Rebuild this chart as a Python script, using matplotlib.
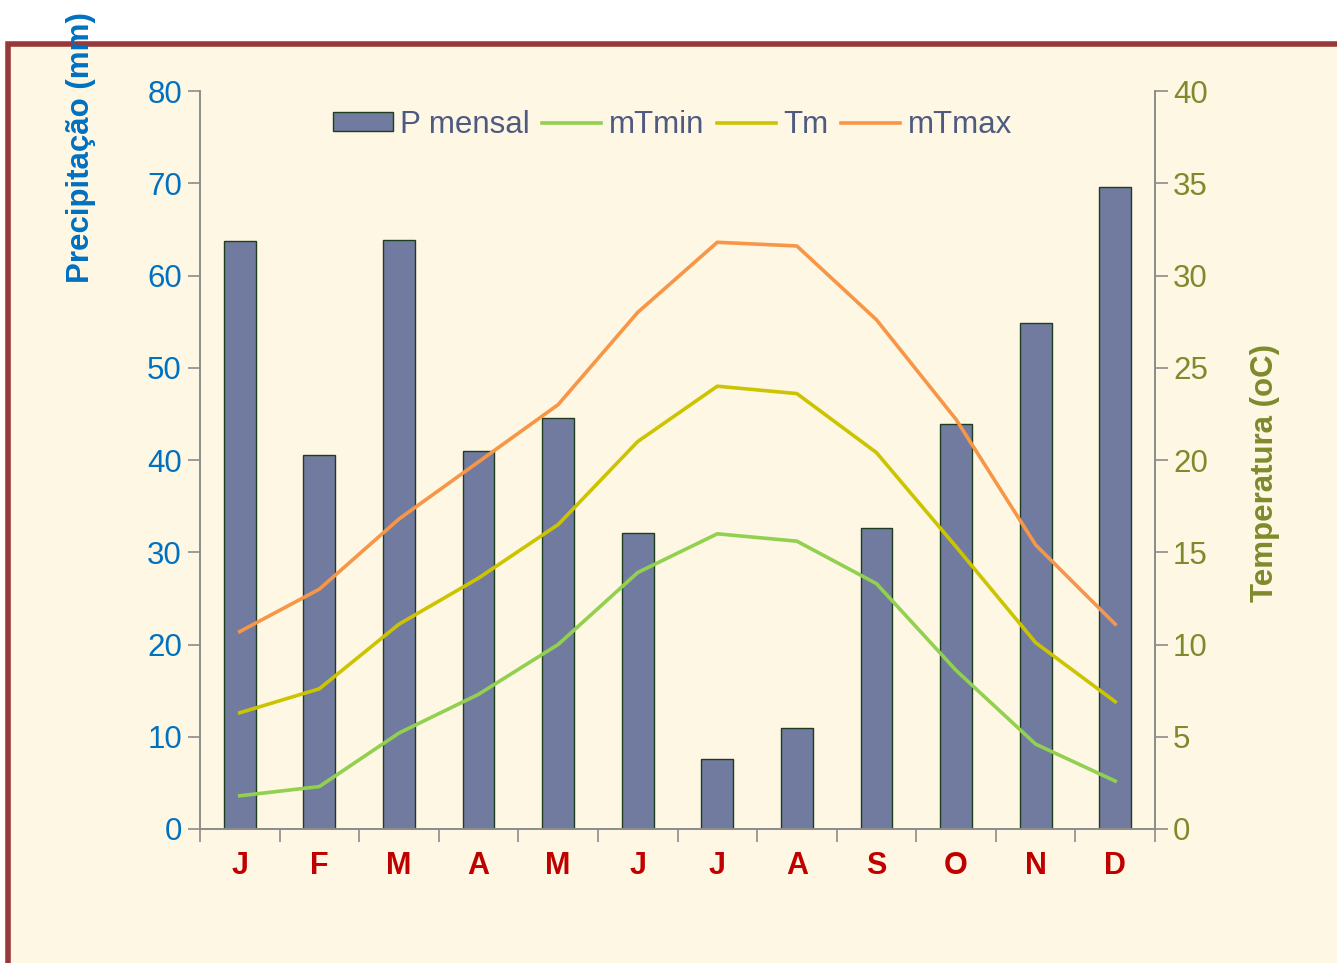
import matplotlib
matplotlib.use("Agg")
import matplotlib.pyplot as plt
from matplotlib.patches import Rectangle
import numpy as np

plt.rcParams['font.family'] = ['Liberation Sans', 'DejaVu Sans']

months = ["J", "F", "M", "A", "M", "J", "J", "A", "S", "O", "N", "D"]
precip = [63.7, 40.5, 63.8, 41.0, 44.6, 32.1, 7.6, 10.9, 32.6, 43.9, 54.9, 69.6]
t_min = [1.8, 2.3, 5.2, 7.3, 10.0, 13.9, 16.0, 15.6, 13.3, 8.6, 4.6, 2.6]
t_mean = [6.3, 7.6, 11.1, 13.6, 16.5, 21.0, 24.0, 23.6, 20.4, 15.3, 10.1, 6.9]
t_max = [10.7, 13.0, 16.8, 19.9, 23.0, 28.0, 31.8, 31.6, 27.6, 22.2, 15.4, 11.1]

W, H = 1337, 963
fig = plt.figure(figsize=(W / 100, H / 100), dpi=100)
fig.patch.set_facecolor("white")

# framed cream panel behind the chart
panel = Rectangle((8 / W, -0.05), 1.2, (H - 44) / H + 0.05, transform=fig.transFigure,
                  facecolor="#FEF7E4", edgecolor="#983838", linewidth=4, zorder=-5)
fig.patches.append(panel)

ax = fig.add_axes([200 / W, 1 - 829 / H, 955 / W, 738 / H])
ax.set_facecolor("none")
ax2 = ax.twinx()

x = np.arange(len(months))
bars = ax.bar(x, precip, width=0.4, color="#717BA0", edgecolor="#1E3D1E", linewidth=1.0,
              label="P mensal", zorder=2)
l1, = ax2.plot(x, t_min, color="#92D050", lw=2.6, label="mTmin")
l2, = ax2.plot(x, t_mean, color="#CCC400", lw=2.6, label="Tm")
l3, = ax2.plot(x, t_max, color="#F79646", lw=2.6, label="mTmax")

ax.set_xlim(-0.5, 11.5)
ax.set_ylim(0, 80)
ax2.set_ylim(0, 40)
ax.set_yticks(range(0, 81, 10))
ax2.set_yticks(range(0, 41, 5))

gray = "#8C8C8C"
for a in (ax, ax2):
    a.spines["top"].set_visible(False)
    for s in ("left", "right", "bottom"):
        a.spines[s].set_color(gray)
        a.spines[s].set_linewidth(1.2)

ax.set_xticks(np.arange(-0.5, 12, 1))
ax.set_xticklabels([])
ax.set_xticks(x, minor=True)
ax.set_xticklabels(months, minor=True)
ax.tick_params(axis="x", which="major", length=9, width=1.2, color=gray, direction="out")
ax.tick_params(axis="x", which="minor", length=0, pad=16, labelsize=22, labelcolor="#C00000")
for t in ax.get_xticklabels(minor=True):
    t.set_fontweight("bold")

ax.tick_params(axis="y", length=9, width=1.2, color=gray, labelsize=22.5, labelcolor="#0070C0", pad=4)
ax2.tick_params(axis="y", length=9, width=1.2, color=gray, labelsize=22.5, labelcolor="#7F8A2C", pad=4)

fig.text(81 / W, 1 - 148 / H, "Precipitação (mm)", rotation=90, ha="center", va="center",
         fontsize=22.5, fontweight="bold", color="#0070C0")
fig.text(1265 / W, 1 - 473 / H, "Temperatura (oC)", rotation=90, ha="center", va="center",
         fontsize=22.5, fontweight="bold", color="#7F8A2C")

leg = ax.legend([bars, l1, l2, l3], ["P mensal", "mTmin", "Tm", "mTmax"], ncol=4,
                loc="center", bbox_to_anchor=(0.495, 0.954), frameon=False,
                fontsize=22.5, handlelength=1.9, handleheight=0.55, handletextpad=0.25,
                columnspacing=0.38, labelcolor="#4F5A80")

fig.savefig("out.png", dpi=100, facecolor=fig.get_facecolor())
